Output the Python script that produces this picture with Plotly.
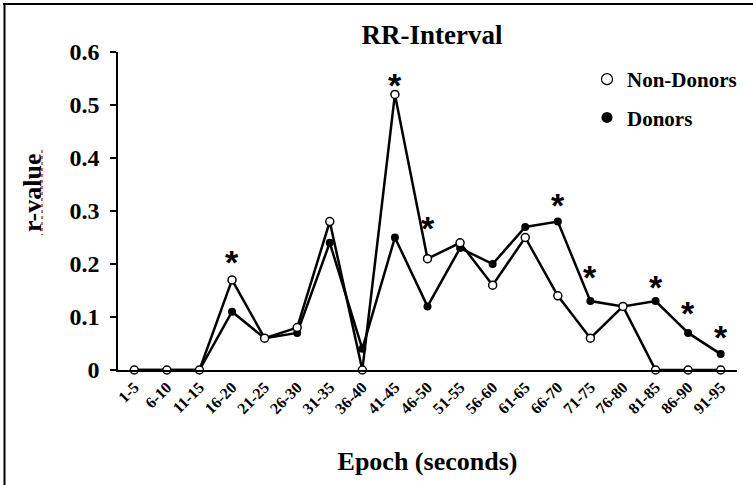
import plotly.graph_objects as go

categories = ["1-5", "6-10", "11-15", "16-20", "21-25", "26-30", "31-35", "36-40",
              "41-45", "46-50", "51-55", "56-60", "61-65", "66-70", "71-75",
              "76-80", "81-85", "86-90", "91-95"]
non_donors = [0, 0, 0, 0.17, 0.06, 0.08, 0.28, 0, 0.52, 0.21, 0.24, 0.16, 0.25,
              0.14, 0.06, 0.12, 0, 0, 0]
donors = [0, 0, 0, 0.11, 0.06, 0.07, 0.24, 0.04, 0.25, 0.12, 0.23, 0.20, 0.27,
          0.28, 0.13, 0.12, 0.13, 0.07, 0.03]
sig_categories = ["16-20", "41-45", "46-50", "66-70", "71-75", "81-85", "86-90", "91-95"]
sig_y = [0.222, 0.557, 0.287, 0.33, 0.194, 0.176, 0.126, 0.081]
y_ticks = [0, 0.1, 0.2, 0.3, 0.4, 0.5, 0.6]
y_tick_labels = ["0", "0.1", "0.2", "0.3", "0.4", "0.5", "0.6"]

SERIF = "Liberation Serif"
idx = list(range(len(categories)))

fig = go.Figure()
fig.add_trace(go.Scatter(
    x=idx, y=donors, mode="lines+markers", name="Donors", showlegend=False,
    line=dict(color="black", width=2.5),
    marker=dict(symbol="circle", size=8, color="black"),
    cliponaxis=False))
fig.add_trace(go.Scatter(
    x=idx, y=non_donors, mode="lines+markers", name="Non-Donors", showlegend=False,
    line=dict(color="black", width=2.5),
    marker=dict(symbol="circle", size=8, color="white", line=dict(color="black", width=1.5)),
    cliponaxis=False))
# legend-only entries (markers only)
fig.add_trace(go.Scatter(
    x=[None], y=[None], mode="markers", name="<b>Non-Donors</b>", legendgroup="a",
    marker=dict(symbol="circle", size=11, color="white", line=dict(color="black", width=1.2))))
fig.add_trace(go.Scatter(
    x=[None], y=[None], mode="markers", name="<b>Donors</b>", legendgroup="b",
    marker=dict(symbol="circle", size=11, color="black")))

annotations = []
for c, yv in zip(sig_categories, sig_y):
    annotations.append(dict(
        x=categories.index(c), y=yv, xref="x", yref="y", text="<b>*</b>", showarrow=False,
        font=dict(family="Liberation Sans", size=34, color="black"),
        yshift=-10))

# y-axis title
annotations.append(dict(
    x=(32 - 118) / 619, y=(370 - 193) / 318, xref="paper", yref="paper",
    text="<b>r-value</b>", textangle=-90, showarrow=False,
    font=dict(family=SERIF, size=26, color="black"),
    xanchor="center", yanchor="middle"))

shapes = [
    # image frame (left & top)
    dict(type="line", xref="paper", yref="paper",
         x0=(4.5 - 118) / 619, x1=(4.5 - 118) / 619, y0=(370 - 3) / 318, y1=(370 - 490) / 318,
         line=dict(color="black", width=2)),
    dict(type="line", xref="paper", yref="paper",
         x0=(3 - 118) / 619, x1=(760 - 118) / 619, y0=(370 - 4) / 318, y1=(370 - 4) / 318,
         line=dict(color="black", width=2)),
    # spell-check underline of y-axis title
    dict(type="line", xref="paper", yref="paper",
         x0=(42 - 118) / 619, x1=(42 - 118) / 619, y0=(370 - 150) / 318, y1=(370 - 235) / 318,
         line=dict(color="#e83030", width=1.5, dash="dot")),
]

fig.update_layout(
    width=753, height=485,
    margin=dict(l=118, r=16, t=52, b=115, autoexpand=False),
    paper_bgcolor="white", plot_bgcolor="white",
    title=dict(text="<b>RR-Interval</b>", x=(432) / 753, xanchor="center",
               y=1 - 35 / 485, yanchor="middle",
               font=dict(family=SERIF, size=27, color="black")),
    showlegend=True,
    legend=dict(x=(587 - 118) / 619, y=(370 - 59) / 318, xanchor="left", yanchor="top",
                bgcolor="rgba(0,0,0,0)", font=dict(family=SERIF, size=21, color="black"),
                tracegroupgap=8, itemwidth=30),
    annotations=annotations,
    shapes=shapes,
    font=dict(family=SERIF, color="black"),
)

fig.update_xaxes(
    range=[-0.5, 18.5], tickmode="array", tickvals=idx,
    ticktext=["<b>%s</b>" % c for c in categories], tickangle=-45,
    tickfont=dict(family=SERIF, size=16, color="black"),
    showline=True, linecolor="black", linewidth=1.5, ticks="", showgrid=False,
    zeroline=False, automargin=False,
    title=dict(text="<b>Epoch (seconds)</b>", font=dict(family=SERIF, size=26, color="black"),
               standoff=36))
fig.update_yaxes(
    range=[0, 0.6], tickmode="array", tickvals=y_ticks,
    ticktext=["<b>%s</b>" % t for t in y_tick_labels],
    tickfont=dict(family=SERIF, size=24, color="black"),
    showline=True, linecolor="black", linewidth=1.5, ticks="outside", ticklen=6,
    tickcolor="black", tickwidth=1.5, showgrid=False, zeroline=False, ticklabelstandoff=6,
    automargin=False)

fig.write_html("out.html")
